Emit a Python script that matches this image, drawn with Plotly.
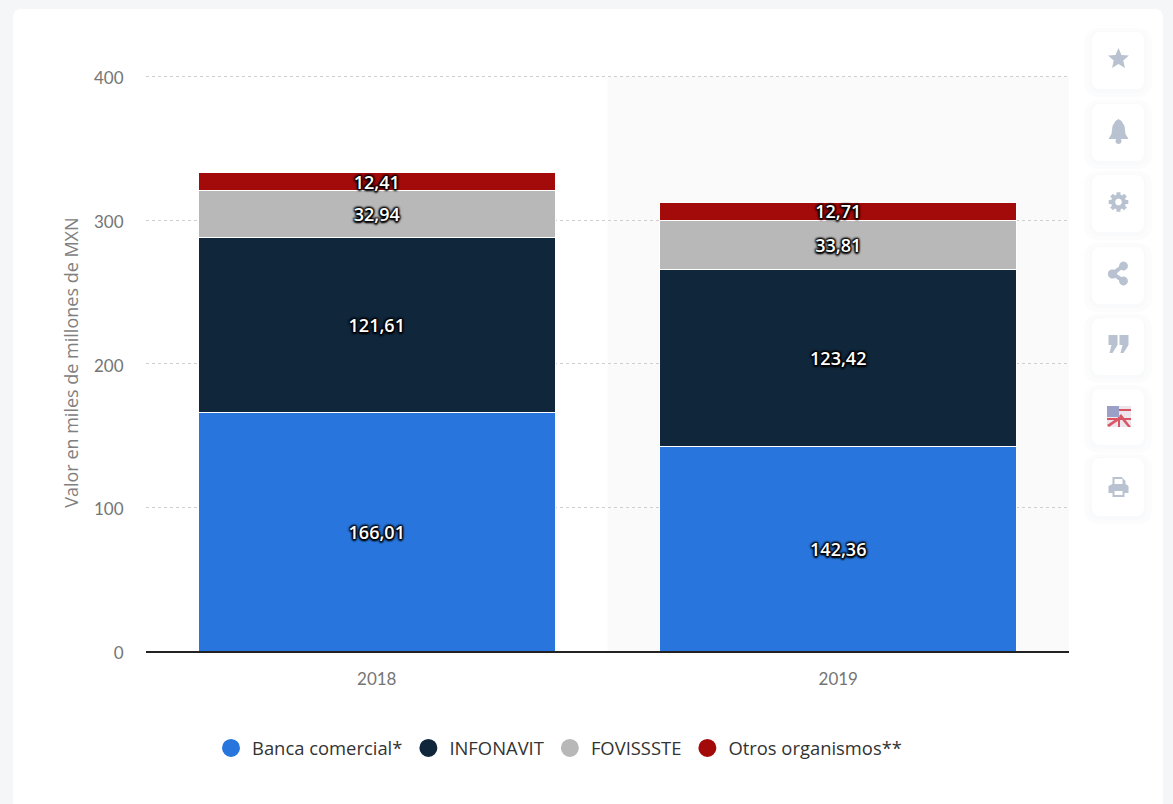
import math
import plotly.graph_objects as go

categories = ["2018", "2019"]
series_names = ["Banca comercial*", "INFONAVIT", "FOVISSSTE", "Otros organismos**"]
banca = [166.01, 142.36]
infonavit = [121.61, 123.42]
fovissste = [32.94, 33.81]
otros = [12.41, 12.71]
colors = ["#2876DD", "#10263B", "#B8B8B8", "#A30A0A"]
y_ticks = [0, 100, 200, 300, 400]
y_title = "Valor en miles de millones de MXN"

W, H = 1173, 804
L, R, T, B = 146, 1069, 74.2, 651
BAND_TOP = 76.5

def px(x):
    return x / W
def py(y):
    return 1 - y / H

fig = go.Figure()
shadow = "0 0 3px #000, 1px 1px 2px #000, -1px -1px 2px #000, 1px -1px 2px #000, -1px 1px 2px #000, 0 2px 2px #000"
for name, vals, col in zip(series_names, [banca, infonavit, fovissste, otros], colors):
    fig.add_bar(
        x=categories, y=vals, marker=dict(color=col, line=dict(color="#ffffff", width=1)),
        text=[f"{v:.2f}".replace(".", ",") for v in vals],
        textposition="inside", insidetextanchor="middle", textangle=0,
        constraintext="none", cliponaxis=False,
        textfont=dict(family="Open Sans, sans-serif", size=18, color="#ffffff", weight=600, shadow=shadow),
        showlegend=False, hoverinfo="skip",
    )
    fig.add_scatter(
        x=[None], y=[None], mode="markers", name=name,
        marker=dict(color=col, size=18, symbol="circle", line=dict(color=col, width=2)),
    )

def pix_path(points_list, fill, layer="below"):
    d = ""
    for points in points_list:
        d += "M" + " L".join(f"{px(x):.5f},{py(y):.5f}" for x, y in points) + " Z "
    return dict(type="path", path=d, xref="paper", yref="paper", fillcolor=fill, line=dict(width=0), layer=layer)

def rr_pts(x0, y0, x1, y1, r, n=6):
    pts = []
    for cx, cy, a0 in [(x1-r, y0+r, -90), (x1-r, y1-r, 0), (x0+r, y1-r, 90), (x0+r, y0+r, 180)]:
        for i in range(n + 1):
            a = math.radians(a0 + 90 * i / n)
            pts.append((cx + r * math.cos(a), cy + r * math.sin(a)))
    return pts

def circle(cx, cy, r, n=20):
    return [(cx + r * math.cos(2*math.pi*i/n), cy + r * math.sin(2*math.pi*i/n)) for i in range(n)]

shapes = []
shapes.append(pix_path([rr_pts(13, 9, 1163, 840, 8)], "#ffffff"))
shapes.append(dict(type="rect", xref="x", yref="paper", x0=0.5, x1=1.5, y0=py(B), y1=py(BAND_TOP),
                   fillcolor="#FAFAFB", line_width=0, layer="below"))

ICON = "#B9C2D0"
btns = [(32, 89), (104, 161), (175, 232), (247, 304), (318, 375), (389, 445), (458, 516)]
for t, b in btns:
    shapes.append(pix_path([rr_pts(1084, t - 4, 1152, b + 8, 14)], "#FCFCFD"))
    shapes.append(pix_path([rr_pts(1089, t - 1, 1147, b + 4, 11)], "#F9FAFB"))
    shapes.append(pix_path([rr_pts(1092, t, 1144, b, 8)], "#ffffff"))

cx = 1118.5
star = [(cx + (11 if i % 2 == 0 else 5) * math.sin(i*math.pi/5), 59 - (11 if i % 2 == 0 else 5) * math.cos(i*math.pi/5)) for i in range(10)]
shapes.append(pix_path([star], ICON, "above"))
bell = [(cx, 119), (cx+3, 121), (cx+6, 126), (cx+7, 134), (cx+10, 139), (cx-10, 139), (cx-7, 134), (cx-6, 126), (cx-3, 121)]
shapes.append(pix_path([bell], ICON, "above"))
shapes.append(pix_path([circle(cx, 141, 3)], ICON, "above"))
gear = []
for i in range(8):
    a = i * math.pi / 4
    for da, r in [(-0.28, 7.5), (-0.2, 10), (0.2, 10), (0.28, 7.5)]:
        gear.append((cx + r * math.cos(a+da), 202 + r * math.sin(a+da)))
shapes.append(pix_path([gear], ICON, "above"))
shapes.append(pix_path([circle(cx, 202, 3.3)], "#ffffff", "above"))
for c in [circle(cx+5, 266, 4.4), circle(cx-6, 274, 4.6), circle(cx+5, 281, 4.4),
          [(cx+4, 264), (cx+6, 267), (cx-5, 276), (cx-7, 272)],
          [(cx-7, 275), (cx-5, 272), (cx+6, 279), (cx+4, 283)]]:
    shapes.append(pix_path([c], ICON, "above"))
def quote(x):
    return [(x, 335), (x+9, 335), (x+9, 345), (x+4, 353), (x+1, 353), (x+3, 345), (x, 345)]
shapes.append(pix_path([quote(cx-10)], ICON, "above"))
shapes.append(pix_path([quote(cx+1)], ICON, "above"))
fx0, fx1, fy0, fy1 = 1107, 1131, 406, 427
shapes.append(pix_path([[(fx0, fy0), (fx1, fy0), (fx1, fy1), (fx0, fy1)]], "#ECE6EC", "above"))
shapes.append(pix_path([[(fx0, fy0), (fx0+12, fy0), (fx0+12, fy0+11), (fx0, fy0+11)]], "#9AA0C6", "above"))
for c in [[(fx0+12, fy0+3), (fx1, fy0+3), (fx1, fy0+5), (fx0+12, fy0+5)],
          [(fx0, fy0+12), (fx1, fy0+12), (fx1, fy0+14), (fx0, fy0+14)],
          [(fx0+14, fy0+8), (fx1, fy1), (fx1-3, fy1), (fx0+12, fy0+10)],
          [(fx0+12, fy0+11), (fx0, fy1-2), (fx0+2, fy1), (fx0+15, fy0+12)],
          [(fx0+11, fy0+11), (fx0+13, fy0+11), (fx0+13, fy1), (fx0+11, fy1)]]:
    shapes.append(pix_path([c], "#D95564", "above"))
pr = [(cx-6, 477), (cx+3, 477), (cx+7, 481), (cx+7, 484), (cx+10, 486), (cx+10, 493), (cx+6, 493), (cx+6, 497),
      (cx-6, 497), (cx-6, 493), (cx-10, 493), (cx-10, 486), (cx-6, 484)]
shapes.append(pix_path([pr], ICON, "above"))
shapes.append(pix_path([[(cx-4, 479), (cx+4, 479), (cx+4, 484), (cx-4, 484)]], "#ffffff", "above"))
shapes.append(pix_path([[(cx-4, 491), (cx+4, 491), (cx+4, 495), (cx-4, 495)]], "#ffffff", "above"))

fig.update_layout(
    width=W, height=H, autosize=False,
    margin=dict(l=0, r=0, t=0, b=0, pad=0),
    paper_bgcolor="#F5F6F8", plot_bgcolor="rgba(0,0,0,0)",
    barmode="stack", bargap=0.227, shapes=shapes,
    font=dict(family="Lato, sans-serif", color="#666666", size=16),
    legend=dict(orientation="h", x=px(210), xanchor="left", y=py(748), yanchor="middle", traceorder="normal",
                itemwidth=32,
                font=dict(family="Open Sans, sans-serif", size=18.4, weight=500, color="#333333"),
                itemclick=False, itemdoubleclick=False, bgcolor="rgba(0,0,0,0)"),
    xaxis=dict(type="category", domain=[px(L), px(R)], tickfont=dict(size=17, color="#757575"), ticks="outside", ticklen=12,
               tickcolor="rgba(0,0,0,0)", showline=True, linecolor="#222222", linewidth=1.5, showgrid=False,
               range=[-0.5, 1.5], zeroline=False, automargin=False),
    yaxis=dict(domain=[py(B), py(T)], range=[0, 401.5], tickvals=y_ticks, tickfont=dict(size=17, color="#757575"), ticks="outside", ticklen=18,
               tickcolor="rgba(0,0,0,0)", showgrid=True, gridcolor="#CFCFCF", griddash="dot", gridwidth=1,
               zeroline=False, showline=False, automargin=False, ticklabelshift=2,
               title=dict(text=y_title, font=dict(family="Open Sans, sans-serif", size=18, color="#808080"), standoff=10)),
)
fig.write_html("out.html", config=dict(displayModeBar=False),
               post_script="document.body.style.margin='0';document.body.style.overflow='hidden';")
